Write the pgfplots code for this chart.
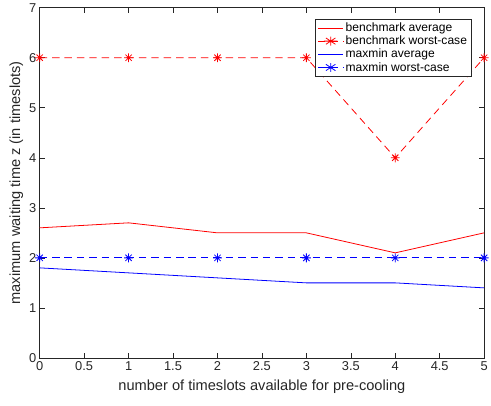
\documentclass[border=0pt]{standalone}
\usepackage{fontspec}
\setmainfont{Liberation Sans}
\usepackage{pgfplots}
\pgfplotsset{compat=1.18}
\definecolor{axgray}{RGB}{38,38,38}
\pgfdeclareplotmark{matstar}{%
  \pgfpathmoveto{\pgfqpoint{-\pgfplotmarksize}{0pt}}\pgfpathlineto{\pgfqpoint{\pgfplotmarksize}{0pt}}%
  \pgfpathmoveto{\pgfqpoint{0pt}{-\pgfplotmarksize}}\pgfpathlineto{\pgfqpoint{0pt}{\pgfplotmarksize}}%
  \pgfpathmoveto{\pgfqpoint{-0.707\pgfplotmarksize}{-0.707\pgfplotmarksize}}\pgfpathlineto{\pgfqpoint{0.707\pgfplotmarksize}{0.707\pgfplotmarksize}}%
  \pgfpathmoveto{\pgfqpoint{-0.707\pgfplotmarksize}{0.707\pgfplotmarksize}}\pgfpathlineto{\pgfqpoint{0.707\pgfplotmarksize}{-0.707\pgfplotmarksize}}%
  \pgfusepathqstroke}
\begin{document}
\begin{tikzpicture}
\begin{axis}[
  scale only axis,
  width=448bp, height=353bp,
  xmin=0, xmax=5, ymin=0, ymax=7,
  xtick={0,0.5,...,5},
  ytick={0,1,...,7},
  xticklabels={0,0.5,1,1.5,2,2.5,3,3.5,4,4.5,5},
  tick align=inside,
  major tick length=5bp,
  axis line style={draw=axgray, line width=0.6pt},
  every tick/.style={axgray, line width=0.6pt},
  /pgf/number format/assume math mode=true,
  tick label style={font=\fontsize{13}{15}\selectfont, text=axgray},
  label style={font=\fontsize{14.8}{16}\selectfont, text=axgray},
  xlabel={number of timeslots available for pre-cooling},
  ylabel={maximum waiting time z (in timeslots)},
  xlabel style={yshift=-3bp},
  ylabel style={yshift=-1bp},
  legend style={at={(0.971,0.969)}, anchor=north east, font=\fontsize{12.2}{14}\selectfont, draw=axgray, line width=0.6pt, row sep=-1pt, inner sep=2pt, text=black},
  legend cell align=left,
  legend image post style={xscale=1.5},
]
\addplot[red, line width=0.8pt] coordinates {(0,2.6) (1,2.7) (2,2.5) (3,2.5) (4,2.1) (5,2.5)};
\addlegendentry{benchmark average}
\addplot[red, line width=0.8pt, dash pattern=on 7.5bp off 5bp, mark=matstar, mark size=4.5bp, mark options={solid}] coordinates {(0,6) (1,6) (2,6) (3,6) (4,4) (5,6)};
\addlegendentry{benchmark worst-case}
\addplot[blue, line width=0.8pt] coordinates {(0,1.8) (1,1.7) (2,1.6) (3,1.5) (4,1.5) (5,1.4)};
\addlegendentry{maxmin average}
\addplot[blue, line width=0.8pt, dash pattern=on 7.5bp off 5bp, mark=matstar, mark size=4.5bp, mark options={solid}] coordinates {(0,2) (1,2) (2,2) (3,2) (4,2) (5,2)};
\addlegendentry{maxmin worst-case}
\end{axis}
\useasboundingbox ([xshift=-40bp,yshift=-48bp]current axis.south west) rectangle ([xshift=3bp,yshift=7bp]current axis.north east);
\end{tikzpicture}
\end{document}
